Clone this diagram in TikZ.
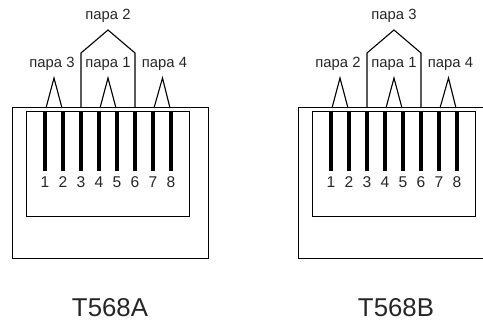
\documentclass[tikz,border=0pt]{standalone}
\usepackage{fontspec}
\setmainfont{Liberation Sans}
\tikzset{
  box/.style={draw=black,line width=1pt},
  pinbar/.style={draw=black,line width=4pt},
  pair/.style={draw=black,line width=1.1pt,line join=miter},
  lab/.style={font=\fontsize{14.8}{16}\selectfont,inner sep=0pt,text=black!85},
  num/.style={font=\fontsize{15.6}{17}\selectfont,inner sep=0pt,text=black!85},
  title/.style={font=\fontsize{25.8}{28}\selectfont,inner sep=0pt,text=black!85}
}
\newcommand{\jack}[6]{%
  \begin{scope}[xshift=#1pt]
    \draw[box] (12,108) rectangle (208,259);
    \draw[box] (26.5,111.5) rectangle (189.5,217);
    \foreach \n/\px in {1/45,2/63,3/81,4/99,5/117,6/135,7/153,8/171}{
      \coordinate (#2-t\n) at (\px,108);
      \coordinate (#2-b\n) at (\px,171.5);
      \draw[pinbar] (\px,111) -- (#2-b\n);
      \node[num] (#2-n\n) at (\px,182) {\n};
    }
    \coordinate (#2-pa) at (54,78);
    \coordinate (#2-pb) at (108,78);
    \coordinate (#2-pc) at (162.5,78);
    \coordinate (#2-ta) at (108,30);
    \coordinate (#2-la) at (81,53);
    \coordinate (#2-ra) at (135,53);
    \draw[pair] ([xshift=1pt]#2-t1) -- (#2-pa) -- ([xshift=-1pt]#2-t2);
    \draw[pair] ([xshift=1pt]#2-t4) -- (#2-pb) -- ([xshift=-1pt]#2-t5);
    \draw[pair] ([xshift=1pt]#2-t7) -- (#2-pc) -- ([xshift=-1pt]#2-t8);
    \draw[pair] (#2-t3) -- (#2-la) -- (#2-ta) -- (#2-ra) -- (#2-t6);
    \node[lab] (#2-top) at (108,15.5) {#3};
    \node[lab] (#2-left) at (52,63.5) {#4};
    \node[lab] (#2-mid) at (108,63.5) {пара 1};
    \node[lab] (#2-right) at (164.5,63.5) {пара 4};
    \node[title] (#2-title) at (110,307.3) {#5};
  \end{scope}}
\begin{document}
\begin{tikzpicture}[x=1pt,y=-1pt]
  \useasboundingbox (0,0) rectangle (483,320);
  \clip (0,0) rectangle (483,320);
  \jack{0}{a}{пара 2}{пара 3}{T568A}{}
  \jack{286}{b}{пара 3}{пара 2}{T568B}{}
\end{tikzpicture}
\end{document}
